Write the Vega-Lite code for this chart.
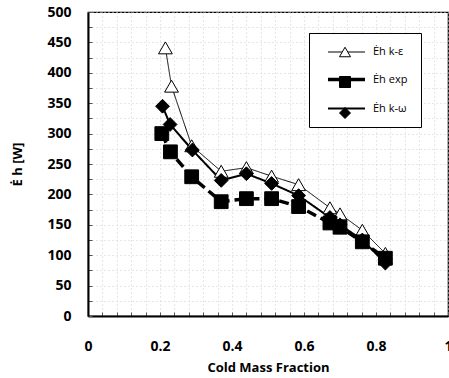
{
  "$schema": "https://vega.github.io/schema/vega-lite/v6.json",
  "width": 360,
  "height": 304,
  "autosize": {"type": "none"},
  "padding": {"left": 88, "top": 12, "right": 1, "bottom": 62},
  "background": "white",
  "config": {
    "font": "Open Sans",
    "view": {"stroke": "black", "strokeWidth": 1.2},
    "legend": {"labelFont": "Open Sans", "labelFontSize": 11, "labelColor": "black"}
  },
  "data": {
    "values": [
      {"series": "Ėh k-ε", "cmf": 0.215, "power": 441},
      {"series": "Ėh k-ε", "cmf": 0.232, "power": 378},
      {"series": "Ėh k-ε", "cmf": 0.288, "power": 280},
      {"series": "Ėh k-ε", "cmf": 0.37, "power": 238},
      {"series": "Ėh k-ε", "cmf": 0.44, "power": 244},
      {"series": "Ėh k-ε", "cmf": 0.51, "power": 230},
      {"series": "Ėh k-ε", "cmf": 0.585, "power": 216},
      {"series": "Ėh k-ε", "cmf": 0.672, "power": 178},
      {"series": "Ėh k-ε", "cmf": 0.70, "power": 168},
      {"series": "Ėh k-ε", "cmf": 0.762, "power": 141},
      {"series": "Ėh k-ε", "cmf": 0.826, "power": 103},
      {"series": "Ėh exp", "cmf": 0.205, "power": 300},
      {"series": "Ėh exp", "cmf": 0.229, "power": 270},
      {"series": "Ėh exp", "cmf": 0.288, "power": 229},
      {"series": "Ėh exp", "cmf": 0.37, "power": 188},
      {"series": "Ėh exp", "cmf": 0.44, "power": 193},
      {"series": "Ėh exp", "cmf": 0.51, "power": 193},
      {"series": "Ėh exp", "cmf": 0.585, "power": 180},
      {"series": "Ėh exp", "cmf": 0.672, "power": 153},
      {"series": "Ėh exp", "cmf": 0.70, "power": 146},
      {"series": "Ėh exp", "cmf": 0.762, "power": 122},
      {"series": "Ėh exp", "cmf": 0.826, "power": 95},
      {"series": "Ėh k-ω", "cmf": 0.207, "power": 345},
      {"series": "Ėh k-ω", "cmf": 0.228, "power": 315},
      {"series": "Ėh k-ω", "cmf": 0.29, "power": 273},
      {"series": "Ėh k-ω", "cmf": 0.37, "power": 223},
      {"series": "Ėh k-ω", "cmf": 0.44, "power": 234},
      {"series": "Ėh k-ω", "cmf": 0.51, "power": 218},
      {"series": "Ėh k-ω", "cmf": 0.585, "power": 198},
      {"series": "Ėh k-ω", "cmf": 0.672, "power": 162},
      {"series": "Ėh k-ω", "cmf": 0.70, "power": 150},
      {"series": "Ėh k-ω", "cmf": 0.762, "power": 125},
      {"series": "Ėh k-ω", "cmf": 0.826, "power": 87}
    ]
  },
  "encoding": {
    "x": {
      "field": "cmf",
      "type": "quantitative",
      "scale": {"domain": [0, 1], "nice": false},
      "axis": {
        "title": "Cold Mass Fraction",
        "values": [0, 0.04, 0.08, 0.12, 0.16, 0.2, 0.24, 0.28, 0.32, 0.36, 0.4, 0.44, 0.48, 0.52, 0.56, 0.6, 0.64, 0.68, 0.72, 0.76, 0.8, 0.84, 0.88, 0.92, 0.96, 1],
        "labelExpr": "abs(datum.value * 5 - round(datum.value * 5)) < 0.000001 ? format(datum.value, '~g') : ''",
        "labelFlush": false,
        "labelOverlap": false,
        "labelFontSize": 14,
        "labelFontWeight": "bold",
        "labelColor": "black",
        "labelPadding": 27,
        "titleFontSize": 13,
        "titleFontWeight": "bold",
        "titleColor": "black",
        "titlePadding": 8,
        "tickSize": -4,
        "tickColor": "#555",
        "domainColor": "black",
        "domainWidth": 2,
        "gridColor": "#cfcfcf",
        "gridDash": [1, 3]
      }
    },
    "y": {
      "field": "power",
      "type": "quantitative",
      "scale": {"domain": [0, 500], "nice": false},
      "axis": {
        "title": "Ė h [W]",
        "values": [0, 25, 50, 75, 100, 125, 150, 175, 200, 225, 250, 275, 300, 325, 350, 375, 400, 425, 450, 475, 500],
        "labelExpr": "datum.value % 50 == 0 ? datum.label : ''",
        "labelOverlap": false,
        "labelFontSize": 14,
        "labelFontWeight": "bold",
        "labelColor": "black",
        "labelPadding": 21,
        "titleFontSize": 13,
        "titleFontWeight": "bold",
        "titleColor": "black",
        "titlePadding": 22,
        "tickSize": -4,
        "tickColor": "#555",
        "domainColor": "black",
        "domainWidth": 2,
        "gridColor": "#cfcfcf",
        "gridDash": [1, 3]
      }
    }
  },
  "layer": [
    {
      "mark": {"type": "line", "color": "black", "strokeCap": "butt"},
      "encoding": {
        "order": {"field": "cmf"},
        "strokeDash": {
          "field": "series",
          "type": "nominal",
          "sort": ["Ėh k-ε", "Ėh exp", "Ėh k-ω"],
          "scale": {"range": [[1, 0], [10, 5], [1, 0]]},
          "legend": {
            "orient": "none", "legendX": 221, "legendY": 21, "title": null,
            "padding": 13, "rowPadding": 15, "symbolSize": 121,
            "symbolType": "M-0.27,0H6.45", "symbolStrokeColor": "black",
            "symbolFillColor": "transparent", "labelOffset": 36,
            "strokeColor": "black", "fillColor": "white",
            "labelExpr": "datum.label + '    '"
          }
        },
        "strokeWidth": {
          "field": "series",
          "type": "nominal",
          "sort": ["Ėh k-ε", "Ėh exp", "Ėh k-ω"],
          "scale": {"type": "ordinal", "range": [1, 3.5, 2]},
          "legend": {
            "orient": "none", "legendX": 221, "legendY": 21, "title": null,
            "padding": 13, "rowPadding": 15, "symbolSize": 121,
            "symbolType": "M-0.27,0H6.45", "symbolStrokeColor": "black",
            "symbolFillColor": "transparent", "labelOffset": 36,
            "strokeColor": "black", "fillColor": "white",
            "labelExpr": "datum.label + '    '"
          }
        }
      }
    },
    {
      "mark": {"type": "point", "filled": true, "strokeWidth": 1, "size": 190, "opacity": 1},
      "encoding": {
        "shape": {
          "field": "series",
          "type": "nominal",
          "scale": {"domain": ["Ėh k-ε", "Ėh exp", "Ėh k-ω"], "range": ["triangle-up", "square", "diamond"]},
          "legend": {
            "orient": "none", "legendX": 238, "legendY": 21, "title": null,
            "padding": 13, "rowPadding": 15, "symbolSize": 121,
            "symbolStrokeWidth": 1, "labelOffset": 36,
            "labelExpr": "''"
          }
        },
        "fill": {
          "field": "series",
          "type": "nominal",
          "scale": {"domain": ["Ėh k-ε", "Ėh exp", "Ėh k-ω"], "range": ["white", "black", "black"]},
          "legend": {
            "orient": "none", "legendX": 238, "legendY": 21, "title": null,
            "padding": 13, "rowPadding": 15, "symbolSize": 121,
            "symbolStrokeWidth": 1, "labelOffset": 36,
            "labelExpr": "''"
          }
        },
        "stroke": {
          "field": "series",
          "type": "nominal",
          "scale": {"domain": ["Ėh k-ε", "Ėh exp", "Ėh k-ω"], "range": ["black", "black", "black"]},
          "legend": {
            "orient": "none", "legendX": 238, "legendY": 21, "title": null,
            "padding": 13, "rowPadding": 15, "symbolSize": 121,
            "symbolStrokeWidth": 1, "labelOffset": 36,
            "labelExpr": "''"
          }
        }
      }
    }
  ]
}
